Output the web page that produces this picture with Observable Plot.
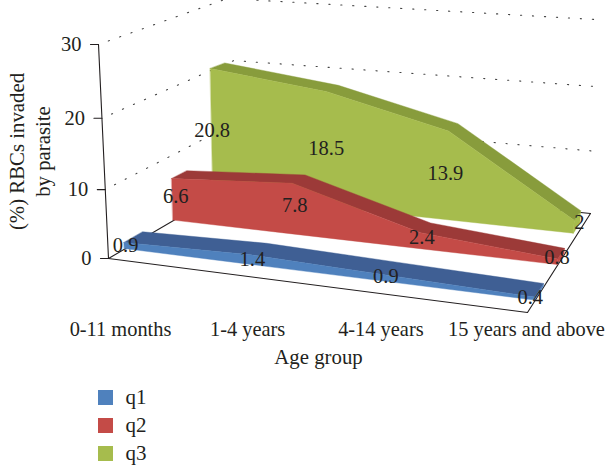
<!DOCTYPE html>
<html>
<head>
<meta charset="utf-8">
<script src="https://cdn.jsdelivr.net/npm/d3@7"></script>
<script src="https://cdn.jsdelivr.net/npm/@observablehq/plot@0.6"></script>
<style>
  html, body { margin: 0; padding: 0; background: #fff; }
  svg { display: block; }
  #legend { margin-left: 97.5px; font: 21px "Liberation Serif", serif; color: #231f20; }
  #legend div { height: 28px; display: flex; align-items: center; }
  #legend i { width: 15px; height: 15px; margin-right: 13px; display: block; }
</style>
</head>
<body>
<div id="chart"></div>
<div id="legend"></div>
<script>
// ---- data ----
const ageGroups = ["0-11 months", "1-4 years", "4-14 years", "15 years and above"];
const seriesNames = ["q1", "q2", "q3"];
const q1 = [0.9, 1.4, 0.9, 0.4];
const q2 = [6.6, 7.8, 2.4, 0.8];
const q3 = [20.8, 18.5, 13.9, 2];
const yTicks = [0, 10, 20, 30];
const yMax = 30;
const faceColors = ["#4F81BD", "#C44B47", "#A6BC4D"];
const topColors = ["#3F5F94", "#9C3A38", "#889C3C"];
const ink = "#231f20";
const font = "Liberation Serif";

// ---- 3D camera: maps (age position, depth, value) to the page ----
const cam = {
  origin: [108, 258], right: [527, 312], back: [245, 178], up: [98, 44],
  a: 0.891, b: 1.234, c: 0.95,
  backUp: [227, -2], rightBackUp: [595, 19], rightBack: [590, 213]
};
const depths = [[0.098, 0.217], [0.422, 0.532], [0.726, 0.843]];
const baseLift = [0, 0, 0.012];
const spanEnd = [1, 1, 0.994];
const ageNudge = [12, 10, 4, -1];
const labelNudge = [
  [[0, 0], [0, 0], [-3, -1], [-6, -1]],
  [[2, -2], [1, -3], [0, -3], [-2, -4]],
  [[-1, -1], [-1, 0], [-3, -1], [4, -4]]
];

function project(u, w, v) {
  const {origin: O, right: U, back: W, up: V, a, b, c} = cam;
  const d = 1 + (a - 1) * u + (b - 1) * w + (c - 1) * v;
  return [0, 1].map(k =>
    (O[k] + (U[k] * a - O[k]) * u + (W[k] * b - O[k]) * w + (V[k] * c - O[k]) * v) / d);
}
const uOf = i => i / (ageGroups.length - 1);
const vOf = value => value / yMax;
const mix = (p, q, t) => [p[0] + (q[0] - p[0]) * t, p[1] + (q[1] - p[1]) * t];

// points on the two walls, for the dotted gridlines
const wallT = v => v * cam.c / (1 + (cam.c - 1) * v);
const frontWall = value => mix(cam.origin, cam.up, wallT(vOf(value)));
const cornerWall = value => mix(cam.back, cam.backUp, wallT(vOf(value)));
const rightWall = value => mix(cam.rightBack, cam.rightBackUp, wallT(vOf(value)));

// ---- tables built from the data ----
const rows = values => values.map((value, i) => ({i, value}));
function band(values, s, from, to) {
  return rows(values).map(({i, value}) => {
    const [x1, y1] = from(i, value, s);
    const [x2, y2] = to(i, value, s);
    return {x1, y1, x2, y2};
  });
}
const place = (i, s, depth, v) => project(uOf(i) * spanEnd[s], depths[s][depth], v + baseLift[s]);
const frontTop = (i, value, s) => place(i, s, 0, vOf(value));
const frontBase = (i, value, s) => place(i, s, 0, 0);
const backTop = (i, value, s) => place(i, s, 1, vOf(value));
const backBase = (i, value, s) => place(i, s, 1, 0);

const allSeries = [q1, q2, q3];
const seriesMarks = [];
[2, 1, 0].forEach(s => {
  const values = allSeries[s];
  const last = values.length - 1;
  seriesMarks.push(
    Plot.area([
      {x1: frontBase(last, values[last], s)[0], y1: frontBase(last, values[last], s)[1],
       x2: frontTop(last, values[last], s)[0], y2: frontTop(last, values[last], s)[1]},
      {x1: backBase(last, values[last], s)[0], y1: backBase(last, values[last], s)[1],
       x2: backTop(last, values[last], s)[0], y2: backTop(last, values[last], s)[1]}
    ], {x1: "x1", y1: "y1", x2: "x2", y2: "y2", fill: faceColors[s], stroke: faceColors[s], strokeWidth: 0.4}),
    Plot.area(band(values, s, frontTop, backTop),
      {x1: "x1", y1: "y1", x2: "x2", y2: "y2", fill: topColors[s], stroke: topColors[s], strokeWidth: 0.4}),
    Plot.area(band(values, s, frontBase, frontTop),
      {x1: "x1", y1: "y1", x2: "x2", y2: "y2", fill: faceColors[s], stroke: faceColors[s], strokeWidth: 0.4})
  );
});

const segment = (p, q) => Plot.line([p, q], {x: d => d[0], y: d => d[1], stroke: ink, strokeWidth: 1.1});
const o = cam.origin, r = project(1, 0, 0), b = cam.back, rb = cam.rightBack;

const gridMarks = yTicks.filter(t => t > 0).map(t =>
  Plot.line([frontWall(t), cornerWall(t), rightWall(t)], {
    x: d => d[0], y: d => d[1], stroke: "#444", strokeWidth: 1.1,
    strokeDasharray: "1.2 10.8", strokeDashoffset: 1.6
  }));

const tickMarks = yTicks.map(t => {
  const p = frontWall(t);
  return segment([p[0] - 8, p[1]], p);
});

const valueLabels = allSeries.flatMap((values, s) => rows(values).map(({i, value}) => {
  const m = mix(frontBase(i, value, s), frontTop(i, value, s), 0.5);
  return {x: m[0] + 1 + labelNudge[s][i][0], y: m[1] - 1 + labelNudge[s][i][1], text: String(value)};
}));
const tickLabels = yTicks.map(t => {
  const p = frontWall(t);
  return {x: p[0] - 17, y: p[1], text: String(t)};
});
const ageLabels = ageGroups.map((text, i) => {
  const p = project(uOf(i), 0, 0);
  return {x: p[0] + ageNudge[i], text};
});

const svg = Plot.plot({
  width: 607, height: 383,
  margin: 0,
  x: {type: "identity", axis: null},
  y: {type: "identity", axis: null},
  style: {background: "#fff"},
  marks: [
    ...gridMarks,
    segment(o, b), segment(b, rb), segment(o, r), segment(r, rb),
    segment(cam.up, o), ...tickMarks,
    ...seriesMarks,
    Plot.text(valueLabels, {x: "x", y: "y", text: "text", fontSize: 20.5, fontFamily: font, fill: ink}),
    Plot.text(tickLabels, {x: "x", y: "y", text: "text", textAnchor: "end", fontSize: 20.5, fontFamily: font, fill: ink}),
    Plot.text(ageLabels, {x: "x", y: () => 329, text: "text", fontSize: 20.4, fontFamily: font, fill: ink}),
    Plot.text(["Age group"], {x: () => 318, y: () => 357, fontSize: 20.8, fontFamily: font, fill: ink}),
    Plot.text(["(%) RBCs invaded"], {x: () => 17, y: () => 151, rotate: -90, fontSize: 20.8, fontFamily: font, fill: ink}),
    Plot.text(["by parasite"], {x: () => 43, y: () => 151, rotate: -90, fontSize: 20.8, fontFamily: font, fill: ink})
  ]
});
document.getElementById("chart").append(svg);

const legend = document.getElementById("legend");
seriesNames.forEach((name, s) => {
  const row = document.createElement("div");
  const swatch = document.createElement("i");
  swatch.style.background = faceColors[s];
  row.append(swatch, name);
  legend.append(row);
});
</script>
</body>
</html>
